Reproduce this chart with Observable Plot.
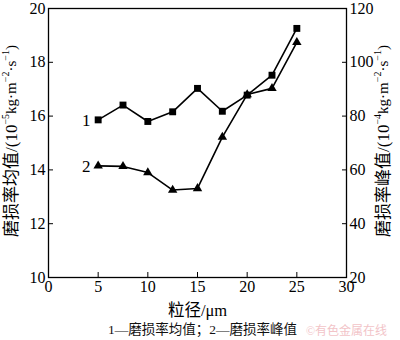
<!DOCTYPE html>
<html>
<head>
<meta charset="utf-8">
<script src="https://cdn.jsdelivr.net/npm/d3@7"></script>
<script src="https://cdn.jsdelivr.net/npm/@observablehq/plot@0.6"></script>
<style>
body { margin: 0; background: #fff; width: 400px; height: 340px; position: relative; overflow: hidden; }
#chart svg { display: block; overflow: visible; }
.cap { position: absolute; font-family: "Liberation Serif", "Noto Sans CJK SC", serif; white-space: nowrap; }
</style>
</head>
<body>
<div id="chart"></div>
<div class="cap" style="left:108px; top:318px; font-size:13.5px; color:#111;">1—磨损率均值；2—磨损率峰值</div>
<div class="cap" style="left:306px; top:321px; font-size:12px; color:#f2c4c8;">©有色金属在线</div>
<script>
const sizes = [5, 7.5, 10, 12.5, 15, 17.5, 20, 22.5, 25];
const meanRate = [15.86, 16.41, 15.8, 16.16, 17.03, 16.18, 16.78, 17.52, 19.26];   // left axis, 10^-5
const peakRate = [61.5, 61.3, 59.0, 52.5, 53.1, 72.2, 88.0, 90.3, 107.4];          // right axis, 10^-4
const xTicks = [0, 5, 10, 15, 20, 25, 30];
const leftTicks = [10, 12, 14, 16, 18, 20];
const rightTicks = [20, 40, 60, 80, 100, 120];
const seriesLabels = ["1", "2"];
const xTitle = "粒径/μm";
const leftTitle = ["磨损率均值/(10", "−5", "kg·m", "−2", "·s", "−1", ")"];
const rightTitle = ["磨损率峰值/(10", "−4", "kg·m", "−2", "·s", "−1", ")"];

// map right axis (20..120) onto left axis (10..20)
const toLeft = v => 10 + (v - 20) / 10;

const meanData = sizes.map((x, i) => ({x, y: meanRate[i]}));
const peakData = sizes.map((x, i) => ({x, y: toLeft(peakRate[i])}));
const labelData = [
  {x: sizes[0], y: meanRate[0], t: seriesLabels[0]},
  {x: sizes[0], y: toLeft(peakRate[0]), t: seriesLabels[1]}
];

const font = "'Liberation Serif', 'Noto Sans CJK SC', serif";

const chart = Plot.plot({
  width: 400,
  height: 322,
  marginTop: 8,
  marginBottom: 45,
  marginLeft: 48,
  marginRight: 54,
  style: {fontFamily: font, fontSize: "16px", color: "#000", background: "#fff", overflow: "visible"},
  x: {domain: [0, 30], label: null},
  y: {domain: [10, 20], label: null},
  marks: [
    Plot.frame({stroke: "#000", strokeWidth: 1.3}),
    // inward ticks
    Plot.axisX({ticks: xTicks, tickSize: 5, dy: -5, text: null, label: null, stroke: "#000"}),
    Plot.axisX({ticks: xTicks, tickSize: 0, tickPadding: 3, label: null, fontSize: 16, fill: "#000"}),
    Plot.axisY({ticks: leftTicks, anchor: "left", tickSize: 5, dx: 5, text: null, label: null, stroke: "#000"}),
    Plot.axisY({ticks: leftTicks, anchor: "left", tickSize: 0, tickPadding: 3, label: null, fontSize: 16, fill: "#000"}),
    Plot.axisY({ticks: rightTicks.map(toLeft), anchor: "right", tickSize: 5, dx: -5, text: null, label: null, stroke: "#000"}),
    Plot.axisY({ticks: rightTicks.map(toLeft), anchor: "right", tickSize: 0, tickPadding: 3, label: null,
      tickFormat: d => String(Math.round((d - 10) * 10 + 20)), fontSize: 16, fill: "#000"}),
    // series
    Plot.line(meanData, {x: "x", y: "y", stroke: "#000", strokeWidth: 1.6}),
    Plot.dot(meanData, {x: "x", y: "y", symbol: "square", r: 3.9, fill: "#000"}),
    Plot.line(peakData, {x: "x", y: "y", stroke: "#000", strokeWidth: 1.6}),
    Plot.dot(peakData, {x: "x", y: "y", symbol: "triangle", r: 3.5, fill: "#000"}),
    Plot.text(labelData, {x: "x", y: "y", text: "t", dx: -12, dy: 1, fontSize: 17, fill: "#000"}),
    // x title
    Plot.text([xTitle], {frameAnchor: "bottom", dy: 38, fontSize: 16.5, fill: "#000"})
  ]
});
document.getElementById("chart").appendChild(chart);

// rotated y titles with superscripts
function vTitle(parts, cx, cy) {
  const t = d3.select(chart).append("text")
    .attr("transform", `translate(${cx},${cy}) rotate(-90)`)
    .attr("text-anchor", "middle")
    .attr("dominant-baseline", "middle")
    .attr("fill", "#000")
    .style("font-family", font);
  parts.forEach((p, i) => {
    const sup = i % 2 === 1;
    const ts = t.append("tspan").text(p).style("font-size", sup ? "10px" : (i === 0 ? "17px" : "15px"));
    if (sup) ts.attr("dy", -6);
    else if (i > 0) ts.attr("dy", 6);
  });
}
vTitle(leftTitle, 13, 141);
vTitle(rightTitle, 385, 141);
</script>
</body>
</html>
